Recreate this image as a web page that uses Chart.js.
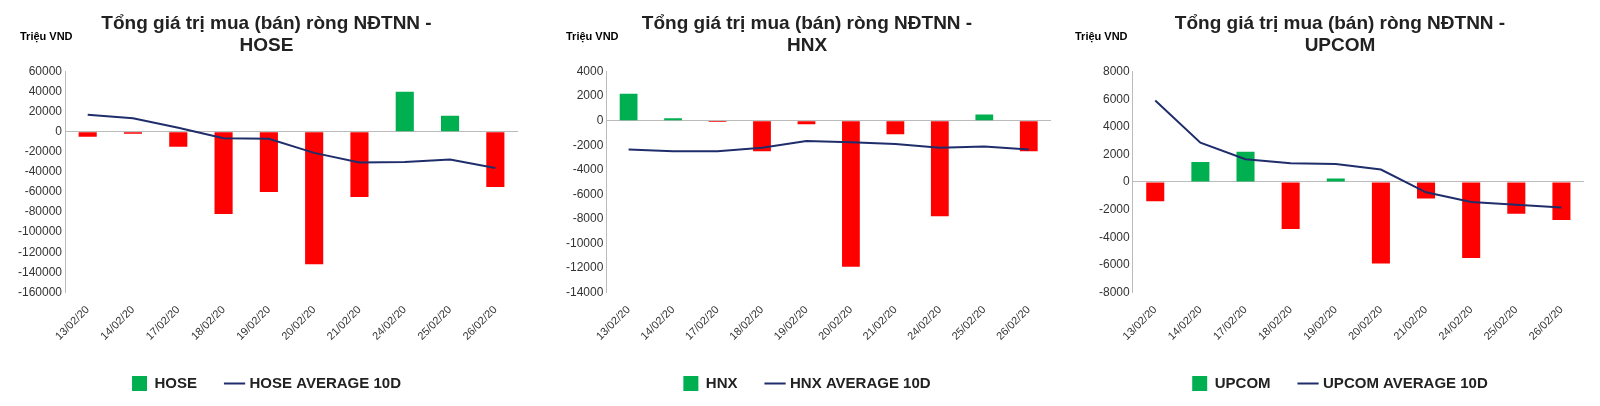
<!DOCTYPE html>
<html><head><meta charset="utf-8">
<script src="https://cdn.jsdelivr.net/npm/chart.js@4.4.0/dist/chart.umd.min.js"></script>
<style>
body{margin:0;background:#fff;width:1600px;height:406px;position:relative;font-family:"Liberation Sans",Arial,sans-serif}
.p{position:absolute;top:0;width:533px;height:406px}
.u{position:absolute;top:30px;font-size:11px;font-weight:bold;color:#000}
</style></head><body>
<div class="p" style="left:0"><canvas id="c0" width="533" height="406"></canvas></div>
<div class="p" style="left:533px"><canvas id="c1" width="533" height="406"></canvas></div>
<div class="p" style="left:1066px"><canvas id="c2" width="533" height="406"></canvas></div>
<div class="u" style="left:20px">Triệu VND</div>
<div class="u" style="left:566px">Triệu VND</div>
<div class="u" style="left:1075px">Triệu VND</div>
<script>
const categories=["13/02/20","14/02/20","17/02/20","18/02/20","19/02/20","20/02/20","21/02/20","24/02/20","25/02/20","26/02/20"];
const hoseNet=[-5000,-2000,-15000,-82000,-60000,-132000,-65000,40000,16000,-55000];
const hoseAvg=[17000,13500,4000,-6500,-7000,-21000,-30500,-30000,-27500,-36000];
const hnxNet=[2200,200,-100,-2500,-300,-11900,-1100,-7800,500,-2500];
const hnxAvg=[-2350,-2500,-2500,-2200,-1650,-1750,-1900,-2200,-2100,-2350];
const upcomNet=[-1400,1450,2200,-3400,250,-5900,-1200,-5500,-2300,-2750];
const upcomAvg=[5900,2850,1650,1350,1300,900,-750,-1450,-1650,-1850];
const panels=[
 {id:"c0",name:"HOSE",net:hoseNet,avg:hoseAvg,min:-160000,max:60000,step:20000,padL:15},
 {id:"c1",name:"HNX",net:hnxNet,avg:hnxAvg,min:-14000,max:4000,step:2000,padL:30},
 {id:"c2",name:"UPCOM",net:upcomNet,avg:upcomAvg,min:-8000,max:8000,step:2000,padL:30}
];
const GREEN="#00b050",RED="#ff0000",NAVY="#1f2d6b",F="Liberation Sans";
panels.forEach(p=>{
 new Chart(document.getElementById(p.id),{
  data:{labels:categories,datasets:[
   {type:"line",label:p.name+" AVERAGE 10D",data:p.avg,borderColor:NAVY,backgroundColor:NAVY,borderWidth:2,pointRadius:0,tension:0,order:0},
   {type:"bar",label:p.name,data:p.net,backgroundColor:p.net.map(v=>v>=0?GREEN:RED),barPercentage:0.4,categoryPercentage:1,order:1}
  ]},
  options:{responsive:false,animation:false,devicePixelRatio:1,
   layout:{padding:{left:p.padL,right:15,top:0,bottom:5}},
   plugins:{
    title:{display:true,text:["Tổng giá trị mua (bán) ròng NĐTNN -",p.name],color:"#222",font:{size:19,weight:"bold",family:F},padding:{top:12,bottom:14},lineHeight:1.3},
    legend:{position:"bottom",reverse:true,labels:{usePointStyle:true,color:"#222",font:{size:15,weight:"bold",family:F},padding:30,boxWidth:40,
     generateLabels:(ch)=>ch.data.datasets.map((d,i)=>({text:d.label,datasetIndex:i,fillStyle:d.type==="bar"?GREEN:NAVY,strokeStyle:d.type==="bar"?GREEN:NAVY,lineWidth:d.type==="bar"?0:2,pointStyle:d.type==="bar"?"rect":"line",fontColor:"#222"}))}},
    tooltip:{enabled:false}},
   scales:{
    x:{grid:{display:false},border:{display:false},ticks:{maxRotation:45,minRotation:45,autoSkip:false,color:"#333",font:{size:11,family:F}}},
    y:{min:p.min,max:p.max,ticks:{stepSize:p.step,color:"#333",font:{size:12,family:F},callback:v=>String(v)},
       border:{display:true,color:"#bbb"},
       grid:{drawTicks:false,color:c=>c.tick&&c.tick.value===0?"#bbb":"rgba(0,0,0,0)"}}
   }}
 });
});
</script>
</body></html>
